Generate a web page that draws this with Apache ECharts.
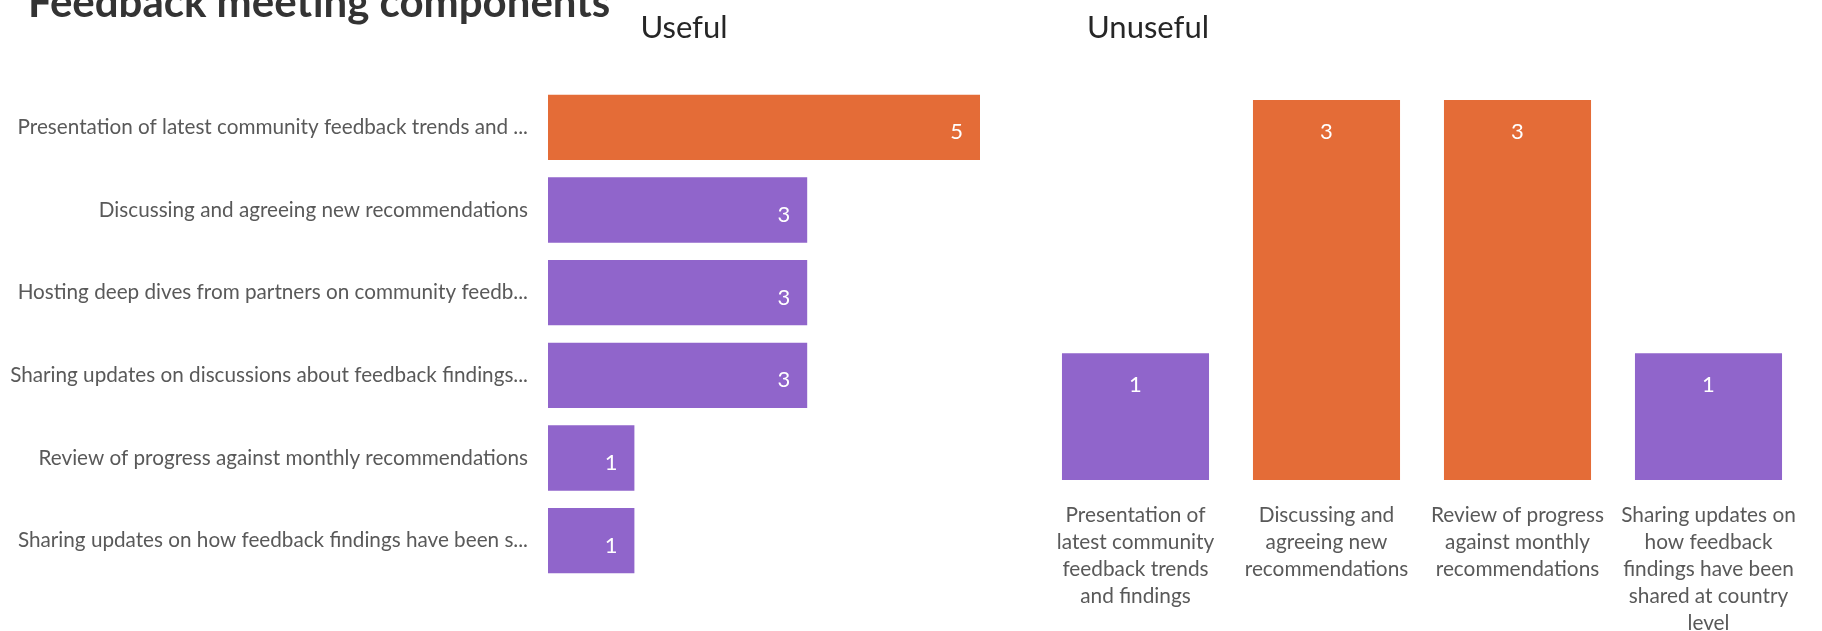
<!DOCTYPE html>
<html>
<head>
<meta charset="utf-8">
<title>Feedback meeting components</title>
<script src="https://cdn.jsdelivr.net/npm/echarts@6/dist/echarts.min.js"></script>
<style>
  html, body { margin: 0; padding: 0; background: #ffffff; }
  #chart { width: 1822px; height: 631px; }
</style>
</head>
<body>
<div id="chart"></div>
<script>
// Components rated useful (horizontal bars, top to bottom)
const usefulLabels = [
  'Presentation of latest community feedback trends and ...',
  'Discussing and agreeing new recommendations',
  'Hosting deep dives from partners on community feedb...',
  'Sharing updates on discussions about feedback findings...',
  'Review of progress against monthly recommendations',
  'Sharing updates on how feedback findings have been s...'
];
const usefulValues = [5, 3, 3, 3, 1, 1];

// Components rated unuseful (vertical columns, left to right)
const unusefulLabels = [
  'Presentation of\nlatest community\nfeedback trends\nand findings',
  'Discussing and\nagreeing new\nrecommendations',
  'Review of progress\nagainst monthly\nrecommendations',
  'Sharing updates on\nhow feedback\nfindings have been\nshared at country\nlevel'
];
const unusefulValues = [1, 3, 3, 1];

const ORANGE = '#E46C37';
const PURPLE = '#9065CB';
const FONT = 'Lato';

// highest value in each panel is drawn in orange, the rest in purple
function colored(values) {
  const top = Math.max.apply(null, values);
  return values.map(v => ({ value: v, itemStyle: { color: v === top ? ORANGE : PURPLE } }));
}

const chart = echarts.init(document.getElementById('chart'), null, { renderer: 'canvas' });

chart.setOption({
  backgroundColor: '#ffffff',
  animation: false,
  title: [
    {
      text: 'Feedback meeting components',
      left: 23, top: -23,
      textStyle: { fontFamily: FONT, fontWeight: 'bold', fontSize: 42, color: '#333333' }
    },
    {
      text: 'Useful',
      left: 679, top: 7, textAlign: 'center',
      textStyle: { fontFamily: FONT, fontWeight: 'normal', fontSize: 31, color: '#262626' }
    },
    {
      text: 'Unuseful',
      left: 1143, top: 7, textAlign: 'center',
      textStyle: { fontFamily: FONT, fontWeight: 'normal', fontSize: 31, color: '#262626' }
    }
  ],
  grid: [
    { left: 548, top: 86, width: 432, height: 496, containLabel: false, outerBoundsMode: 'none' },
    { left: 1040, top: 100, width: 764, height: 380, containLabel: false, outerBoundsMode: 'none' }
  ],
  xAxis: [
    {
      gridIndex: 0, type: 'value', min: 0, max: 5, show: false
    },
    {
      gridIndex: 1, type: 'category', data: unusefulLabels,
      axisLine: { show: false }, axisTick: { show: false },
      axisLabel: {
        interval: 0, margin: 22, fontFamily: FONT, fontSize: 20.8,
        lineHeight: 27, color: '#595959', align: 'center'
      }
    }
  ],
  yAxis: [
    {
      gridIndex: 0, type: 'category', data: usefulLabels, inverse: true,
      axisLine: { show: false }, axisTick: { show: false },
      axisLabel: { margin: 20, fontFamily: FONT, fontSize: 20.7, color: '#595959' }
    },
    {
      gridIndex: 1, type: 'value', min: 0, max: 3, show: false
    }
  ],
  series: [
    {
      type: 'bar', xAxisIndex: 0, yAxisIndex: 0,
      data: colored(usefulValues),
      barCategoryGap: '21%',
      label: {
        show: true, position: 'insideRight', distance: 17, offset: [0, 5],
        color: '#ffffff', fontFamily: FONT, fontSize: 22
      }
    },
    {
      type: 'bar', xAxisIndex: 1, yAxisIndex: 1,
      data: colored(unusefulValues),
      barCategoryGap: '23%',
      label: {
        show: true, position: 'insideTop', distance: 21,
        color: '#ffffff', fontFamily: FONT, fontSize: 22
      }
    }
  ]
});
</script>
</body>
</html>
